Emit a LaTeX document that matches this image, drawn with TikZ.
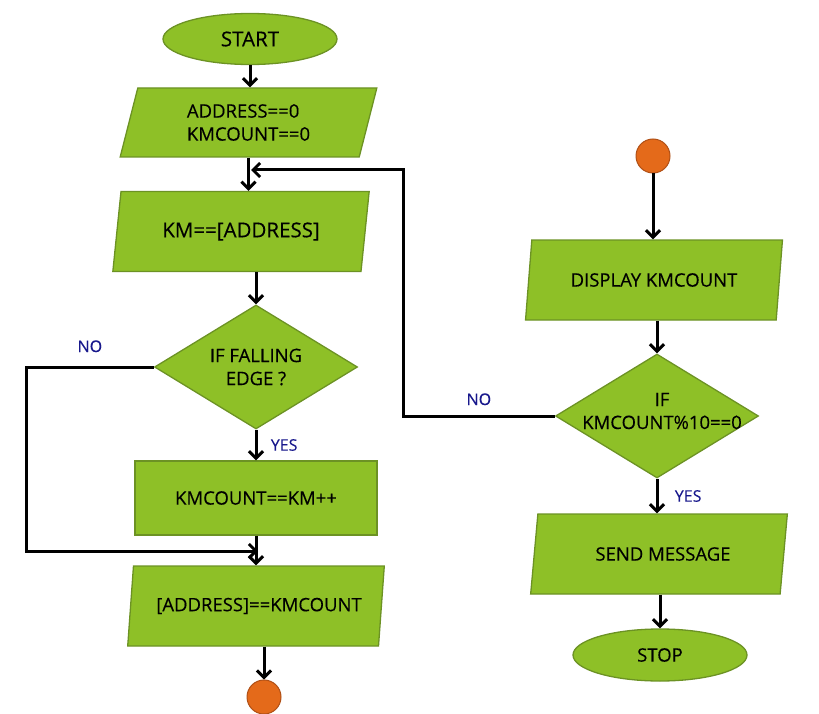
\documentclass[tikz,border=0pt]{standalone}
\usepackage{fontspec}
\setmainfont{Open Sans}[FakeBold=0.3]
\usetikzlibrary{shapes.geometric,arrows.meta}

\definecolor{boxgreen}{RGB}{142,192,39}
\definecolor{boxedge}{RGB}{108,146,36}
\definecolor{dotorange}{RGB}{228,106,26}
\definecolor{dotedge}{RGB}{176,80,22}
\definecolor{tagblue}{RGB}{24,24,140}

\begin{document}
\begin{tikzpicture}[x=1pt,y=-1pt,
  every node/.style={font=\fontsize{18.5}{23}\selectfont},
  >={Straight Barb[length=7pt,width=14pt]},
  terminal/.style={ellipse,draw=boxedge,fill=boxgreen,line width=1.3pt,minimum width=174pt,minimum height=51pt,inner sep=0pt},
  io/.style={trapezium,trapezium left angle=76,trapezium right angle=104,trapezium stretches=true,draw=boxedge,fill=boxgreen,line width=1.3pt,minimum width=257pt,minimum height=80pt,inner sep=2pt},
  process/.style={rectangle,draw=boxedge,fill=boxgreen,line width=1.3pt,minimum width=242pt,minimum height=74pt},
  decision/.style={diamond,draw=boxedge,fill=boxgreen,line width=1.3pt,minimum width=203pt,minimum height=124pt,inner sep=0pt},
  dot/.style={circle,draw=dotedge,fill=dotorange,line width=1pt,minimum size=34pt,inner sep=0pt},
  wire/.style={line width=3pt,black},
  big/.style={font=\fontsize{20.5}{24}\selectfont},
  tag/.style={font=\fontsize{16}{19}\selectfont,text=tagblue}]

\useasboundingbox (0,0) rectangle (819,714);

% left column
\node[terminal,big] (start) at (250,39) {START};
\node[io,minimum height=69pt,align=left] (p1) at (248.5,122.5) {ADDRESS==0\\KMCOUNT==0};
\node[io,big] (p2) at (241,231.5) {KM==[ADDRESS]};
\node[decision,label={[align=center]center:IF FALLING\\EDGE ?}] (d1) at (256,367) {};
\node[process] (rect) at (256,498) {KMCOUNT==KM++};
\node[io] (p3) at (256,606) {\hspace*{6pt}[ADDRESS]==KMCOUNT};
\node[dot] (endc) at (264,697) {};

% right column
\node[dot] (topc) at (653,156) {};
\node[io] (p4) at (654,280) {DISPLAY KMCOUNT};
\node[decision,label={[align=center,yshift=5pt,xshift=5pt]center:IF\\KMCOUNT\%10==0}] (d2) at (657,416) {};
\node[io] (p5) at (659,554) {\hspace*{8pt}SEND MESSAGE};
\node[terminal,minimum height=52pt] (stop) at (660,655) {STOP};

\coordinate (loopR) at (403,170);
\coordinate (join1) at (251,170);
\coordinate (loopL) at (26,551);
\coordinate (join2) at (258,551);

\draw[wire,->](start)--(start|-p1.north);
\draw[wire,->](p1.south)--(p1.south|-p2.north);
\draw[wire,->](d1.north|-p2.south)--(d1.north);
\draw[wire,->](d1.south)to node[tag,right=10pt]{YES}(d1.south|-rect.north);
\draw[wire,->](rect.south)--(rect.south|-p3.north);
\draw[wire,->](endc|-p3.south)--(endc.north);
\draw[wire,->](d1.west)-|node[tag,pos=0.25,above=10pt]{NO}(loopL)--(join2);

\draw[wire,->](topc.south)--(topc.south|-p4.north);
\draw[wire,->](d2.north|-p4.south)--(d2.north);
\draw[wire,->](d2.south)to node[tag,right=13pt]{YES}(d2.south|-p5.north);
\draw[wire,->](stop.north|-p5.south)--(stop.north);
\draw[wire,->](d2.west)-|node[tag,pos=0.25,above=6pt]{NO}(loopR)--(join1);
\end{tikzpicture}
\end{document}
